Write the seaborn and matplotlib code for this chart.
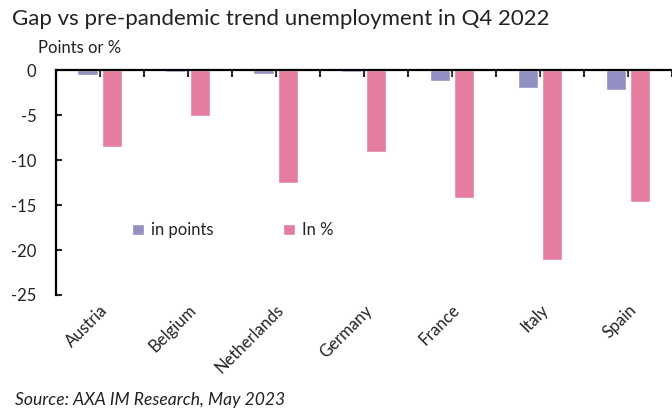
import numpy as np
import pandas as pd
import seaborn as sns
import matplotlib
matplotlib.use("Agg")
import matplotlib.pyplot as plt

# %% data
countries = ["Austria", "Belgium", "Netherlands", "Germany", "France", "Italy", "Spain"]
in_points = [-0.5, -0.2, -0.4, -0.2, -1.2, -2.05, -2.2]
in_pct = [-8.5, -5.1, -12.55, -9.15, -14.2, -21.15, -14.65]
series_names = ["in points", "In %"]
y_ticks = [0, -5, -10, -15, -20, -25]

colors_palette = ["#928fc3", "#e47d9e"]

df = pd.concat([
    pd.DataFrame({"country": countries, "value": in_points, "series": series_names[0]}),
    pd.DataFrame({"country": countries, "value": in_pct, "series": series_names[1]}),
])

# %% plot
sns.set_style("white")
plt.rcParams["font.family"] = ["Lato", "DejaVu Sans"]
fs = 12

fig = plt.figure(figsize=(6.72, 4.12), dpi=100)
ax = fig.add_axes([0.083, 0.284, 0.917, 0.546])

sns.barplot(data=df, x="country", y="value", hue="series",
            order=countries, hue_order=series_names,
            palette=colors_palette, width=0.55, gap=0.15,
            saturation=1, ax=ax)

ax.set_ylim(-25, 0)
ax.set_xlim(-0.5, 6.5)
ax.set_yticks(y_ticks)
ax.set_yticklabels([str(t) for t in y_ticks], fontsize=fs, color="#222222")
ax.set_xlabel("")
ax.set_ylabel("")

# x axis line sits at zero (top), labels at bottom
for side in ["right", "bottom"]:
    ax.spines[side].set_visible(False)
for side in ["left", "top"]:
    ax.spines[side].set_color("black")
    ax.spines[side].set_linewidth(1.6)

ax.set_xticks(np.arange(-0.5, 7, 1), minor=True)
ax.tick_params(axis="x", which="both", top=True, bottom=False, direction="in",
               length=5, width=1.5, labeltop=False, labelbottom=True)
ax.tick_params(axis="y", left=True, direction="in", length=4, width=1.5, pad=14)
ax.set_xticklabels(countries, rotation=45, ha="right", rotation_mode="anchor",
                   fontsize=fs, color="#222222")
ax.tick_params(axis="x", which="major", pad=5)

leg = ax.legend(loc="upper left", bbox_to_anchor=(0.1, 0.39), ncol=2, frameon=False,
                fontsize=fs, handlelength=0.7, handleheight=0.7, handletextpad=0.4,
                columnspacing=4.2)
for t in leg.get_texts():
    t.set_color("#222222")

fig.text(0.018, 0.94, "Gap vs pre-pandemic trend unemployment in Q4 2022",
         fontsize=16, color="#222222")
fig.text(0.056, 0.872, "Points or %", fontsize=fs, color="#222222")
fig.text(0.022, 0.018, "Source: AXA IM Research, May 2023", fontsize=12.6,
         style="italic", color="#222222")

fig.savefig("out.png", dpi=100)
